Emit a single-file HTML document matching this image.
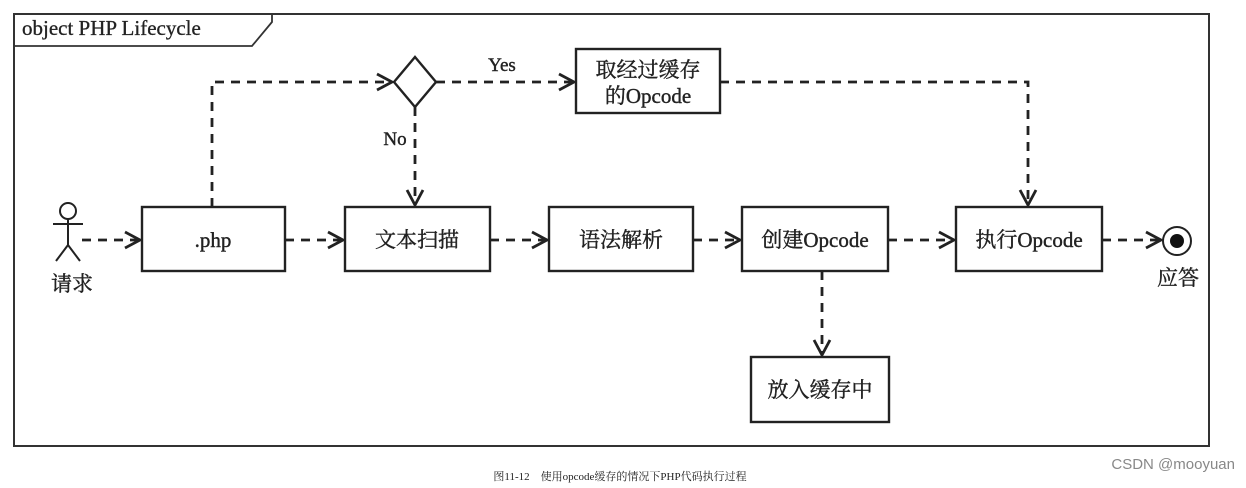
<!DOCTYPE html>
<html><head><meta charset="utf-8"><style>
body{margin:0;background:#fff;}
svg text{font-family:"Liberation Serif","Noto Serif CJK SC",serif;fill:#222;}
</style></head><body>
<svg width="1246" height="483" viewBox="0 0 1246 483" xmlns="http://www.w3.org/2000/svg">
<defs>
<marker id="a" markerWidth="20" markerHeight="20" refX="17" refY="10" orient="auto" markerUnits="userSpaceOnUse">
<path d="M2,2 L17,10 L2,18" fill="none" stroke="#222" stroke-width="2.8"/>
</marker>
</defs>
<rect x="14" y="14" width="1195" height="432" fill="none" stroke="#333" stroke-width="2"/>
<path d="M14,46 L252,46 L272,22 L272,14" fill="none" stroke="#333" stroke-width="1.8"/>
<text x="22" y="35" font-size="21" stroke="#222" stroke-width="0.3">object PHP Lifecycle</text>
<g fill="#fff" stroke="#222" stroke-width="2.4">
<rect x="142" y="207" width="143" height="64"/>
<rect x="345" y="207" width="145" height="64"/>
<rect x="549" y="207" width="144" height="64"/>
<rect x="742" y="207" width="146" height="64"/>
<rect x="956" y="207" width="146" height="64"/>
<rect x="751" y="357" width="138" height="65"/>
<rect x="576" y="49" width="144" height="64"/>
<path d="M415,57 L436,82 L415,107 L394,82 Z"/>
</g>
<g fill="none" stroke="#222" stroke-width="2.8" stroke-dasharray="9,7">
<path d="M82,240 L140,240" marker-end="url(#a)"/>
<path d="M285,240 L343,240" marker-end="url(#a)"/>
<path d="M490,240 L547,240" marker-end="url(#a)"/>
<path d="M693,240 L740,240" marker-end="url(#a)"/>
<path d="M888,240 L954,240" marker-end="url(#a)"/>
<path d="M1102,240 L1161,240" marker-end="url(#a)"/>
<path d="M212,207 L212,82 L392,82" marker-end="url(#a)"/>
<path d="M436,82 L574,82" marker-end="url(#a)"/>
<path d="M720,82 L1028,82 L1028,205" marker-end="url(#a)"/>
<path d="M415,107 L415,205" marker-end="url(#a)"/>
<path d="M822,271 L822,355" marker-end="url(#a)"/>
</g>
<g fill="none" stroke="#222" stroke-width="2">
<circle cx="68" cy="211" r="8"/>
<path d="M68,219 L68,245 M53,224 L83,224 M68,245 L56,261 M68,245 L80,261"/>
<circle cx="1177" cy="241" r="14"/>
</g>
<circle cx="1177" cy="241" r="7" fill="#111"/>
<g font-size="21" text-anchor="middle" stroke="#222" stroke-width="0.4">
<text x="213" y="247">.php</text>
<text x="417" y="247">文本扫描</text>
<text x="621" y="247">语法解析</text>
<text x="815" y="247">创建Opcode</text>
<text x="1029" y="247">执行Opcode</text>
<text x="820" y="397">放入缓存中</text>
<text x="648" y="77">取经过缓存</text>
<text x="648" y="103">的Opcode</text>
<text x="72" y="291">请求</text>
<text x="1178" y="285">应答</text>
<text x="502" y="71" font-size="19">Yes</text>
<text x="395" y="145" font-size="19">No</text>
</g>
<text x="620" y="480" font-size="11" text-anchor="middle" font-family="Liberation Sans,Noto Sans CJK SC,sans-serif">图11-12　使用opcode缓存的情况下PHP代码执行过程</text>
<text x="1235" y="469" font-size="15" text-anchor="end" style="font-family:'Liberation Sans',sans-serif;fill:#888">CSDN @mooyuan</text>
</svg>
</body></html>
